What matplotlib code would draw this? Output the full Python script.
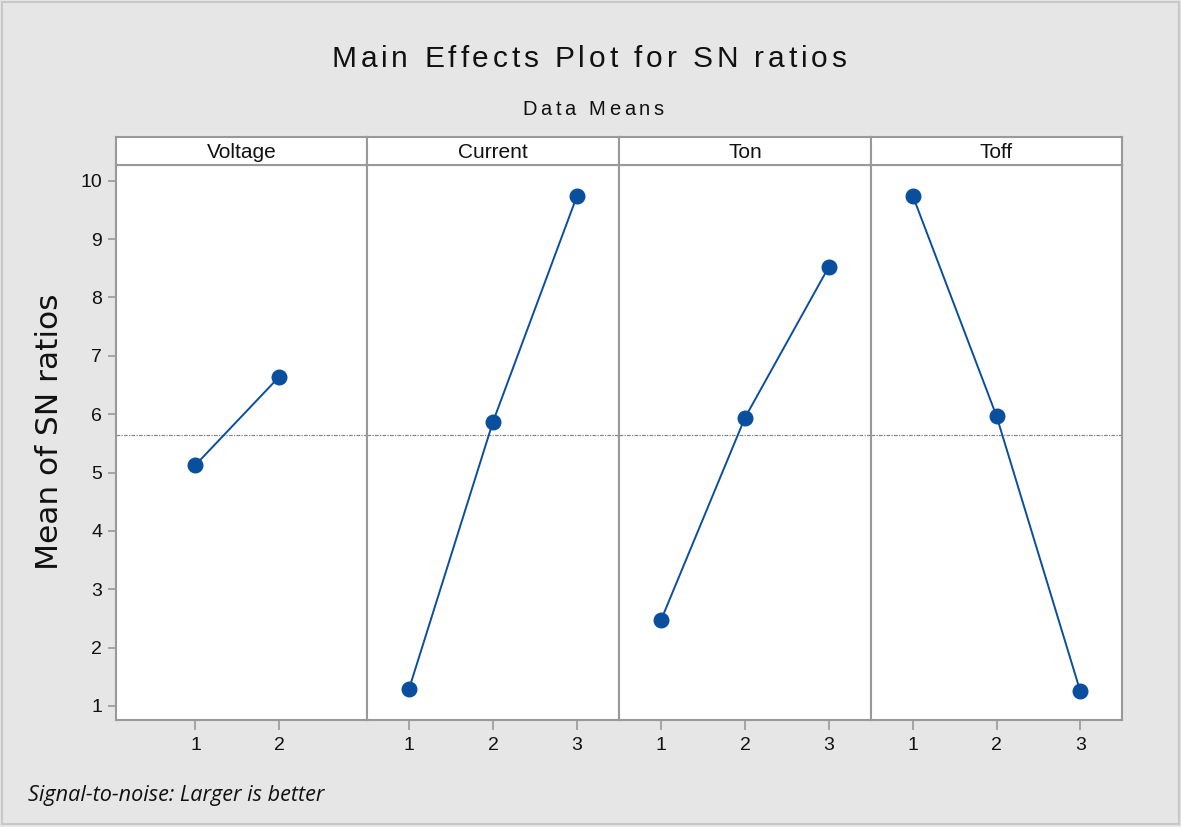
import matplotlib.pyplot as plt
from matplotlib.patches import Rectangle

# Daten
factors = ["Voltage", "Current", "Ton", "Toff"]
levels = [[1, 2], [1, 2, 3], [1, 2, 3], [1, 2, 3]]
sn_means = [
    [5.13, 6.64],
    [1.29, 5.87, 9.74],
    [2.47, 5.94, 8.53],
    [9.74, 5.97, 1.26],
]
overall_mean = 5.65
yticks = [1, 2, 3, 4, 5, 6, 7, 8, 9, 10]

W, H = 1181, 827
bg = "#e6e6e6"
frame_col = "#999999"
blue = "#0a4f9e"
font = "Liberation Sans"

fig = plt.figure(figsize=(W / 100, H / 100), dpi=100, facecolor=bg)
fig.patches.append(Rectangle((0.002, 0.004), 0.996, 0.993, transform=fig.transFigure,
                             fill=False, edgecolor="#c8c8c8", linewidth=1.5))
renderer = fig.canvas.get_renderer()


def text_width(s, size):
    t = fig.text(0, 0, s, fontsize=size, family=font)
    w = t.get_window_extent(renderer).width
    t.remove()
    return w


def spaced_text(xc, yb, s, size, gap):
    # Text mit Zeichenabstand (wie im Minitab-Titel), xc/yb in Pixeln
    ref = text_width("x", size)
    total = text_width(s, size) + gap * (len(s) - 1)
    x_start = xc - total / 2
    for k, ch in enumerate(s):
        if ch == " ":
            continue
        off = text_width(s[:k] + "x", size) - ref if k > 0 else 0
        fig.text((x_start + off + k * gap) / W, 1 - yb / H, ch, fontsize=size,
                 family=font, color="#111111", ha="left", va="baseline")


spaced_text(589, 67, "Main Effects Plot for SN ratios", 21.5, 3.9)
spaced_text(593, 115, "Data Means", 14.5, 3.6)
fig.text(50 / W, 1 - 432 / H, "Mean of SN ratios", ha="center", va="center", rotation=90,
         fontsize=22.5, family="DejaVu Sans", color="#111111")
fig.text(28 / W, 1 - 795 / H, "Signal-to-noise: Larger is better", ha="left", va="center",
         fontsize=15.6, family="Open Sans", style="italic", color="#111111")

edges = [116, 367, 619, 871, 1122]
top, strip_top, bottom = 165, 137, 720

for i, name in enumerate(factors):
    x0, x1 = edges[i], edges[i + 1]
    ax = fig.add_axes([x0 / W, 1 - bottom / H, (x1 - x0) / W, (bottom - top) / H])
    ax.set_facecolor("white")
    ax.plot(levels[i], sn_means[i], color=blue, linewidth=1.4, marker="o",
            markersize=10.5, markerfacecolor=blue, markeredgecolor=blue, zorder=3)
    ax.axhline(overall_mean, color="#888888", linewidth=0.9,
               linestyle=(0, (3, 1, 1, 1)), zorder=2)
    ax.set_ylim(0.76, 10.27)
    if len(levels[i]) == 2:
        ax.set_xlim(0.05, 3.05)
    else:
        ax.set_xlim(0.5, 3.5)
    ax.set_xticks(levels[i])
    ax.set_xticklabels([str(l) for l in levels[i]], family=font, fontsize=14)
    ax.set_yticks(yticks)
    if i == 0:
        ax.set_yticklabels([str(t) for t in yticks], family=font, fontsize=14)
    else:
        ax.tick_params(axis="y", left=False, labelleft=False)
    ax.tick_params(axis="x", length=7, pad=5)
    ax.tick_params(axis="y", length=6, pad=4)
    ax.tick_params(axis="both", color=frame_col, width=1.2, labelcolor="#111111")
    for s in ax.spines.values():
        s.set_color(frame_col)
        s.set_linewidth(1.5)

    # Kopfzeile
    sx = fig.add_axes([x0 / W, 1 - top / H, (x1 - x0) / W, (top - strip_top) / H])
    sx.set_facecolor("white")
    sx.set_xticks([])
    sx.set_yticks([])
    for s in sx.spines.values():
        s.set_color(frame_col)
        s.set_linewidth(1.5)
    sx.text(0.5, 0.45, name, ha="center", va="center", transform=sx.transAxes,
            fontsize=15, family=font, color="#111111")

fig.savefig("out.png", dpi=100, facecolor=bg)
